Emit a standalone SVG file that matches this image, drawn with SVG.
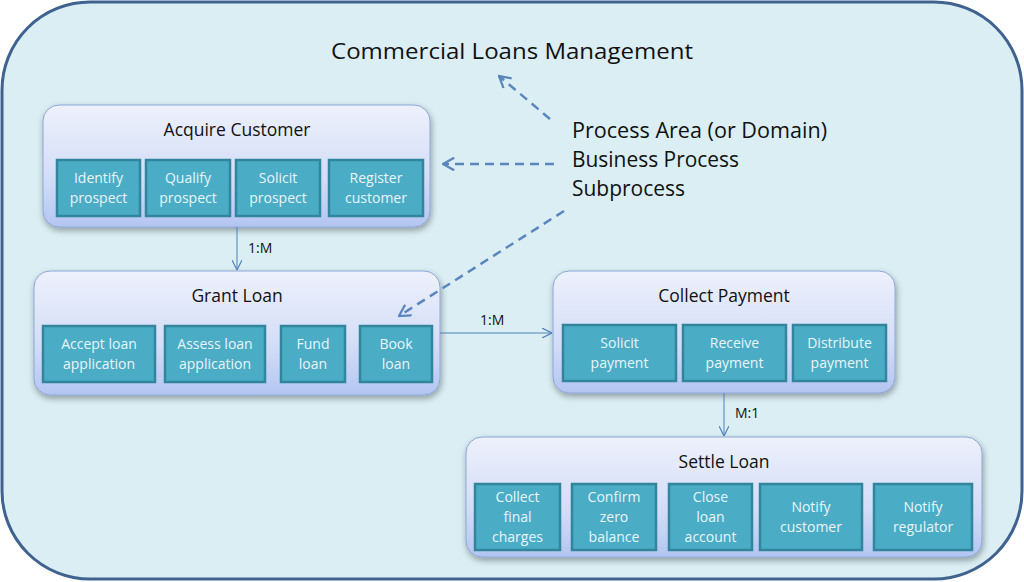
<svg xmlns="http://www.w3.org/2000/svg" width="1024" height="582" viewBox="0 0 1024 582">
<defs>
<linearGradient id="pg" x1="0" y1="0" x2="0" y2="1">
<stop offset="0" stop-color="#eef1fc"/>
<stop offset="0.6" stop-color="#d3ddf7"/>
<stop offset="1" stop-color="#b3c5f1"/>
</linearGradient>
<filter id="sh" x="-10%" y="-10%" width="120%" height="130%">
<feDropShadow dx="1" dy="3" stdDeviation="3" flood-color="#000" flood-opacity="0.35"/>
</filter>
<marker id="open" viewBox="0 0 10 10" refX="10" refY="5" markerWidth="10" markerHeight="10" markerUnits="userSpaceOnUse" orient="auto">
<path d="M0,0 L10,5 L0,10" fill="none" stroke="#4f81bd" stroke-width="1.2"/>
</marker>
<marker id="dash" viewBox="0 0 10 10" refX="9" refY="5" markerWidth="14" markerHeight="14" markerUnits="userSpaceOnUse" orient="auto">
<path d="M1,0.5 L9,5 L1,9.5" fill="none" stroke="#5a86bd" stroke-width="1.6"/>
</marker>
</defs>
<style>
.outer{fill:#daeef3;stroke:#3f628f;stroke-width:3}
.proc{fill:url(#pg);stroke:#8aa6d6;stroke-width:1;filter:url(#sh)}
.sub{fill:#4bacc6;stroke:#31859c;stroke-width:2.5}
.title{font-family:"Open Sans","Liberation Sans",sans-serif;font-size:17.5px;fill:#111;text-anchor:middle}
.st{font-family:"Open Sans","Liberation Sans",sans-serif;font-size:14px;fill:#e9f5f9;text-anchor:middle}
.big{font-family:"Open Sans","Liberation Sans",sans-serif;font-size:21.5px;fill:#111}
.lbl{font-family:"Open Sans","Liberation Sans",sans-serif;font-size:14px;fill:#111}
.conn{stroke:#4f81bd;stroke-width:1;fill:none}
.dsh{stroke:#5a86bd;stroke-width:2.5;fill:none;stroke-dasharray:9 6}
</style>
<rect class="outer" x="2" y="2" width="1020" height="577" rx="88"/>
<text class="big" x="331" y="59" font-size="23" textLength="362" lengthAdjust="spacingAndGlyphs">Commercial Loans Management</text>
<text class="big" x="572" y="138" textLength="255" lengthAdjust="spacingAndGlyphs">Process Area (or Domain)</text>
<text class="big" x="572" y="167" textLength="167" lengthAdjust="spacingAndGlyphs">Business Process</text>
<text class="big" x="572" y="196" textLength="113" lengthAdjust="spacingAndGlyphs">Subprocess</text>

<g id="acquire">
<rect class="proc" x="43" y="105" width="387" height="122" rx="16"/>
<text class="title" x="237" y="136">Acquire Customer</text>
<rect class="sub" x="57" y="160" width="83" height="56"/>
<text class="st" x="98.5" y="183">Identify</text><text class="st" x="98.5" y="203">prospect</text>
<rect class="sub" x="146" y="160" width="84" height="56"/>
<text class="st" x="188" y="183">Qualify</text><text class="st" x="188" y="203">prospect</text>
<rect class="sub" x="236" y="160" width="84" height="56"/>
<text class="st" x="278" y="183">Solicit</text><text class="st" x="278" y="203">prospect</text>
<rect class="sub" x="329" y="160" width="94" height="56"/>
<text class="st" x="376" y="183">Register</text><text class="st" x="376" y="203">customer</text>
</g>

<g id="grant">
<rect class="proc" x="34" y="271" width="406" height="124" rx="16"/>
<text class="title" x="237" y="302">Grant Loan</text>
<rect class="sub" x="43" y="326" width="112" height="56"/>
<text class="st" x="99" y="349">Accept loan</text><text class="st" x="99" y="369">application</text>
<rect class="sub" x="165" y="326" width="100" height="56"/>
<text class="st" x="215" y="349">Assess loan</text><text class="st" x="215" y="369">application</text>
<rect class="sub" x="281" y="326" width="64" height="56"/>
<text class="st" x="313" y="349">Fund</text><text class="st" x="313" y="369">loan</text>
<rect class="sub" x="360" y="326" width="72" height="56"/>
<text class="st" x="396" y="349">Book</text><text class="st" x="396" y="369">loan</text>
</g>

<g id="collect">
<rect class="proc" x="553" y="271" width="342" height="122" rx="16"/>
<text class="title" x="724" y="302">Collect Payment</text>
<rect class="sub" x="563" y="325" width="113" height="56"/>
<text class="st" x="619.5" y="348">Solicit</text><text class="st" x="619.5" y="368">payment</text>
<rect class="sub" x="683" y="325" width="103" height="56"/>
<text class="st" x="734.5" y="348">Receive</text><text class="st" x="734.5" y="368">payment</text>
<rect class="sub" x="793" y="325" width="93" height="56"/>
<text class="st" x="839.5" y="348">Distribute</text><text class="st" x="839.5" y="368">payment</text>
</g>

<g id="settle">
<rect class="proc" x="466" y="437" width="516" height="120" rx="16"/>
<text class="title" x="724" y="468">Settle Loan</text>
<rect class="sub" x="475" y="484" width="85" height="66"/>
<text class="st" x="517.5" y="502">Collect</text><text class="st" x="517.5" y="522">final</text><text class="st" x="517.5" y="542">charges</text>
<rect class="sub" x="572" y="484" width="84" height="66"/>
<text class="st" x="614" y="502">Confirm</text><text class="st" x="614" y="522">zero</text><text class="st" x="614" y="542">balance</text>
<rect class="sub" x="669" y="484" width="83" height="66"/>
<text class="st" x="710.5" y="502">Close</text><text class="st" x="710.5" y="522">loan</text><text class="st" x="710.5" y="542">account</text>
<rect class="sub" x="760" y="484" width="102" height="66"/>
<text class="st" x="811" y="512">Notify</text><text class="st" x="811" y="532">customer</text>
<rect class="sub" x="874" y="484" width="98" height="66"/>
<text class="st" x="923" y="512">Notify</text><text class="st" x="923" y="532">regulator</text>
</g>

<g id="connectors">
<line class="conn" x1="237" y1="227" x2="237" y2="270" marker-end="url(#open)"/>
<text class="lbl" x="248" y="253">1:M</text>
<line class="conn" x1="440" y1="333" x2="552" y2="333" marker-end="url(#open)"/>
<text class="lbl" x="480" y="325">1:M</text>
<line class="conn" x1="724" y1="393" x2="724" y2="436" marker-end="url(#open)"/>
<text class="lbl" x="735" y="418">M:1</text>
<line class="dsh" x1="550" y1="119" x2="499" y2="76" marker-end="url(#dash)"/>
<line class="dsh" x1="554" y1="164" x2="443" y2="164" marker-end="url(#dash)"/>
<line class="dsh" x1="564" y1="211" x2="399" y2="316" marker-end="url(#dash)"/>
</g>
</svg>
